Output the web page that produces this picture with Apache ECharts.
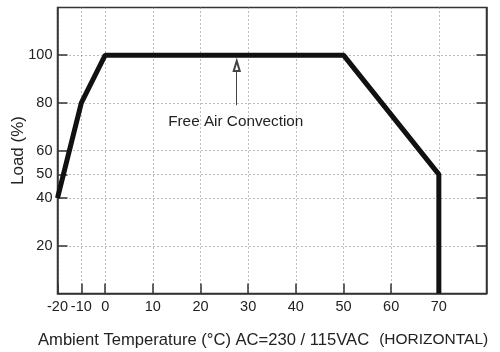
<!DOCTYPE html>
<html>
<head>
<meta charset="utf-8">
<script src="https://cdn.jsdelivr.net/npm/echarts@6/dist/echarts.min.js"></script>
<style>
  html, body { margin: 0; padding: 0; background: #fff; }
  #chart { width: 500px; height: 352px; }
</style>
</head>
<body>
<div id="chart"></div>
<script>
// derating curve
const temps = [-20, -10, 0, 50, 70, 70];
const loads = [40, 80, 100, 100, 50, 0];
const xTicks = [-20, -10, 0, 10, 20, 30, 40, 50, 60, 70];
const yTicks = [20, 40, 50, 60, 80, 100];
const note = 'Free Air Convection';
const noteAt = [27.4, 72];
const arrowFrom = [27.6, 79];
const arrowTo = [27.6, 95.5];

// axis below 0 is drawn at half scale
const tx = t => (t < 0 ? t / 2 : t);
const untx = v => (v < 0 ? v * 2 : v);

const font = 'Liberation Sans, Arial, sans-serif';
const ink = '#222';
const gridLine = { show: true, lineStyle: { color: '#777', width: 1, type: [1, 3] } };

let chart = echarts.init(document.getElementById('chart'));
chart.setOption({
  animation: false,
  grid: {
    left: 57.5, right: 13.5, top: 7.5, bottom: 58.5,
    outerBoundsMode: 'none', containLabel: false,
    show: true, borderColor: '#333', borderWidth: 1.5
  },
  title: {
    left: 38, top: 331, padding: 0,
    text: '{a|Ambient Temperature (°C) AC=230 / 115VAC}  {b|(HORIZONTAL)}',
    textStyle: {
      rich: {
        a: { fontFamily: font, fontSize: 16.6, fontWeight: 'normal', color: ink },
        b: { fontFamily: font, fontSize: 15.5, fontWeight: 'normal', color: ink }
      }
    }
  },
  xAxis: {
    type: 'value', min: tx(-20), max: 80,
    axisLine: { onZero: false, lineStyle: { color: '#333', width: 1.5 } },
    axisTick: { inside: true, length: 10, customValues: xTicks.map(tx), lineStyle: { color: '#333', width: 1.5 } },
    axisLabel: { customValues: xTicks.map(tx), formatter: v => String(untx(v)), fontFamily: font, fontSize: 14.5, color: ink, margin: 6 },
    splitLine: gridLine
  },
  yAxis: [{
    type: 'value', min: 0, max: 120,
    name: 'Load (%)', nameLocation: 'middle', nameGap: 31, nameMoveOverlap: false,
    nameTextStyle: { fontFamily: font, fontSize: 17, color: ink },
    axisLine: { show: true, onZero: false, lineStyle: { color: '#333', width: 1.5 } },
    axisTick: { show: true, inside: true, length: 10, customValues: yTicks, lineStyle: { color: '#333', width: 1.5 } },
    axisLabel: { customValues: yTicks, fontFamily: font, fontSize: 14.5, color: ink, margin: 5 },
    splitLine: gridLine
  }, {
    type: 'value', min: 0, max: 120, position: 'right',
    axisLine: { show: true, onZero: false, lineStyle: { color: '#333', width: 1.5 } },
    axisTick: { show: true, inside: true, length: 10, customValues: yTicks, lineStyle: { color: '#333', width: 1.5 } },
    axisLabel: { show: false },
    splitLine: { show: false }
  }],
  series: [{
    type: 'line',
    data: temps.map((t, i) => [tx(t), loads[i]]),
    showSymbol: false,
    lineStyle: { color: '#111', width: 5 },
    markLine: {
      silent: true,
      symbol: ['none', 'emptyTriangle'],
      symbolSize: [6, 10],
      label: { show: false },
      lineStyle: { color: '#444', width: 1, type: 'solid' },
      data: [[{ coord: arrowFrom }, { coord: arrowTo }]]
    }
  }]
});

let p = chart.convertToPixel({ gridIndex: 0 }, noteAt);
chart.setOption({
  graphic: [{
    type: 'text', x: p[0], y: p[1],
    style: { text: note, fontFamily: font, fontSize: 15.3, fill: ink, align: 'center', verticalAlign: 'middle' }
  }]
});
</script>
</body>
</html>
